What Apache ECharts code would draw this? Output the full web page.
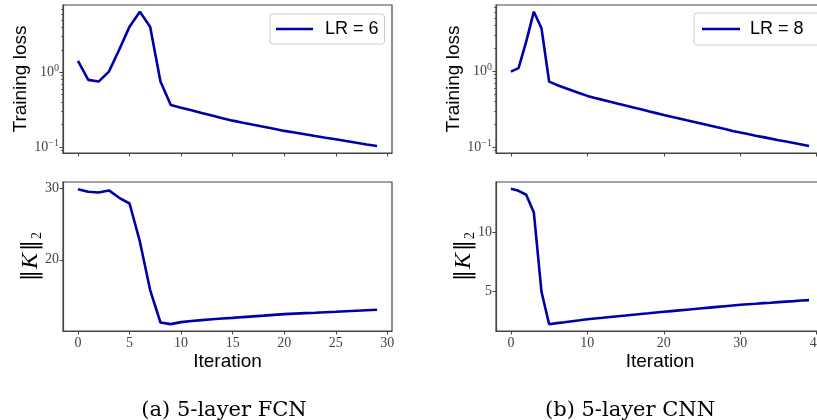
<!DOCTYPE html>
<html>
<head>
<meta charset="utf-8">
<script src="https://cdn.jsdelivr.net/npm/echarts@6/dist/echarts.min.js"></script>
<style>html,body{margin:0;padding:0;background:#fff}#c{width:817px;height:420px}</style>
</head>
<body>
<div id="c"></div>
<script>
// ---- data ----
const fcnLoss = [1.42, 0.79, 0.75, 1.02, 2.0, 4.08, 6.47, 4.08, 0.75, 0.365,
  0.335, 0.309, 0.285, 0.263, 0.243, 0.225, 0.211, 0.198, 0.186, 0.175,
  0.164, 0.156, 0.148, 0.140, 0.133, 0.127, 0.120, 0.114, 0.108, 0.103];
const fcnNorm = [29.9, 29.53, 29.44, 29.72, 28.69, 27.89, 22.58, 15.77, 11.22, 10.99,
  11.27, 11.42, 11.55, 11.67, 11.77, 11.87, 11.98, 12.08, 12.18, 12.29,
  12.39, 12.46, 12.53, 12.59, 12.66, 12.72, 12.79, 12.86, 12.93, 13.0];
const cnnLoss = [0.99, 1.10, 2.46, 6.12, 3.70, 0.73, 0.66, 0.605, 0.556, 0.513,
  0.473, 0.445, 0.419, 0.395, 0.373, 0.352, 0.333, 0.314, 0.296, 0.280,
  0.265, 0.251, 0.238, 0.225, 0.214, 0.203, 0.192, 0.182, 0.173, 0.163,
  0.155, 0.148, 0.141, 0.135, 0.129, 0.123, 0.118, 0.113, 0.108, 0.103];
const cnnNorm = [13.74, 13.57, 13.23, 11.71, 4.94, 2.17, 2.26, 2.34, 2.43, 2.51,
  2.60, 2.66, 2.72, 2.79, 2.85, 2.91, 2.98, 3.04, 3.10, 3.17,
  3.23, 3.29, 3.35, 3.41, 3.47, 3.53, 3.59, 3.65, 3.71, 3.77,
  3.83, 3.88, 3.92, 3.97, 4.01, 4.06, 4.10, 4.14, 4.19, 4.23];
const fcnXTicks = [0, 5, 10, 15, 20, 25, 30];
const cnnXTicks = [0, 10, 20, 30, 40];
const logTicks = [0.1, 1];
const logMinor = [0.09, 0.2, 0.3, 0.4, 0.5, 0.6, 0.7, 0.8, 0.9, 2, 3, 4, 5, 6, 7];
const fcnNormTicks = [20, 30];
const cnnNormTicks = [5, 10];
const labelsLR = ['LR = 6', 'LR = 8'];
const captions = ['(a) 5-layer FCN', '(b) 5-layer CNN'];
const xName = 'Iteration';
const lossName = 'Training loss';

const pairs = a => a.map((v, i) => [i, v]);
const BLUE = '#0000AA';
const SPINE = '#444';
const tickFont = { fontFamily: 'Liberation Serif', fontSize: 14, color: '#444' };
const sansName = { fontFamily: 'Liberation Sans', fontSize: 19, color: '#000' };

const logFmt = v => {
  const e = Math.round(Math.log10(v));
  return '10{sup|' + (e < 0 ? '\u2212' + (-e) : e) + '}';
};
const supRich = { sup: { fontFamily: 'Liberation Serif', fontSize: 10, color: '#444', verticalAlign: 'bottom', padding: [0, 0, 8, 0] } };

function xAxis(gi, min, max, ticks, showLabel) {
  return {
    type: 'value', gridIndex: gi, min: min, max: max,
    axisLine: { show: true, onZero: false, lineStyle: { color: SPINE, width: 1.2 } },
    axisTick: { show: true, customValues: ticks, length: 3.5, lineStyle: { color: SPINE } },
    axisLabel: { show: showLabel, customValues: ticks, margin: 5, ...tickFont },
    splitLine: { show: false },
    name: showLabel ? xName : '', nameLocation: 'middle', nameGap: 21, nameMoveOverlap: false, nameTextStyle: sansName
  };
}
function yLog(gi, min, max, nameGap) {
  return {
    type: 'log', gridIndex: gi, min: min, max: max, logBase: 10, position: 'left',
    axisLine: { show: true, onZero: false, lineStyle: { color: SPINE, width: 1.2 } },
    axisTick: { show: true, customValues: logTicks, length: 3.5, lineStyle: { color: SPINE } },
    axisLabel: { customValues: logTicks, formatter: logFmt, margin: 4, ...tickFont, rich: supRich },
    splitLine: { show: false },
    name: lossName, nameLocation: 'middle', nameRotate: 90, nameGap: nameGap, nameMoveOverlap: false, nameTextStyle: sansName
  };
}
function yMinor(gi, min, max) {
  return {
    type: 'log', gridIndex: gi, min: min, max: max, logBase: 10, position: 'left', offset: 0,
    axisLine: { show: false, onZero: false },
    axisTick: { show: true, inside: false, customValues: logMinor, length: 2, lineStyle: { color: SPINE, width: 0.8 } },
    axisLabel: { show: false }, splitLine: { show: false }
  };
}
function yVal(gi, min, max, ticks, nameGap) {
  return {
    type: 'value', gridIndex: gi, min: min, max: max, position: 'left',
    axisLine: { show: true, onZero: false, lineStyle: { color: SPINE, width: 1.2 } },
    axisTick: { show: true, customValues: ticks, length: 3.5, lineStyle: { color: SPINE } },
    axisLabel: { customValues: ticks, margin: 4, ...tickFont },
    splitLine: { show: false },
    name: '\u2016{k|K}\u2016{sub|2}', nameLocation: 'middle', nameRotate: 90, nameGap: nameGap, nameMoveOverlap: false,
    nameTextStyle: { fontFamily: 'DejaVu Serif', fontSize: 22, color: '#000',
      rich: { k: { fontFamily: 'Liberation Serif', fontStyle: 'italic', fontSize: 24, color: '#000', padding: [0, 2, 0, 1] },
              sub: { fontFamily: 'Liberation Serif', fontSize: 14, color: '#000', verticalAlign: 'top', padding: [12, 0, 0, 1] } } }
  };
}
function line(name, xi, yi, data) {
  return { type: 'line', name: name, xAxisIndex: xi, yAxisIndex: yi, data: pairs(data),
    symbol: 'none', lineStyle: { color: BLUE, width: 2.6 }, itemStyle: { color: BLUE }, z: 5 };
}

const chart = echarts.init(document.getElementById('c'), null, { renderer: 'canvas' });
const frameBox = { show: true, borderColor: SPINE, borderWidth: 1.2, backgroundColor: 'transparent', outerBoundsMode: 'none', containLabel: false };
const legendBase = { itemWidth: 37, itemHeight: 2.6, itemGap: 10, borderColor: '#ccc', borderWidth: 1, borderRadius: 3 };
chart.setOption({
  animation: false,
  backgroundColor: '#fff',
  grid: [
    { left: 63, top: 5, width: 329, height: 148, ...frameBox },
    { left: 63, top: 182, width: 329, height: 149, ...frameBox },
    { left: 496, top: 5, width: 328, height: 148, ...frameBox },
    { left: 496, top: 182, width: 328, height: 149, ...frameBox }
  ],
  xAxis: [
    xAxis(0, -1.45, 30.45, fcnXTicks, false),
    xAxis(1, -1.45, 30.45, fcnXTicks, true),
    xAxis(2, -1.95, 40.95, cnnXTicks, false),
    xAxis(3, -1.95, 40.95, cnnXTicks, true)
  ],
  yAxis: [
    yLog(0, 0.083, 7.95, 33),
    yVal(1, 10.03, 30.9, fcnNormTicks, 19),
    yLog(2, 0.0833, 7.5, 33),
    yVal(3, 1.59, 14.32, cnnNormTicks, 19),
    yMinor(0, 0.083, 7.95),
    yMinor(2, 0.0833, 7.5)
  ],
  legend: [
    { ...legendBase, data: [{ name: labelsLR[0], icon: 'rect' }], left: 270, top: 14, padding: [6, 6, 6, 6],
      textStyle: { fontFamily: 'Liberation Sans', fontSize: 18, color: '#000', padding: [0, 0, 0, 7] } },
    { ...legendBase, itemWidth: 38, data: [{ name: labelsLR[1], icon: 'rect' }], left: 694, top: 13, padding: [7, 17, 7, 8],
      textStyle: { fontFamily: 'Liberation Sans', fontSize: 18, color: '#000', padding: [0, 0, 0, 5] } }
  ],
  title: [
    { text: captions[0], left: 219, top: 395, textAlign: 'center',
      textStyle: { fontFamily: 'DejaVu Serif', fontSize: 21, fontWeight: 'normal', color: '#000' } },
    { text: captions[1], left: 625, top: 395, textAlign: 'center',
      textStyle: { fontFamily: 'DejaVu Serif', fontSize: 21, fontWeight: 'normal', color: '#000' } }
  ],
  series: [
    line(labelsLR[0], 0, 0, fcnLoss),
    line(labelsLR[0], 1, 1, fcnNorm),
    line(labelsLR[1], 2, 2, cnnLoss),
    line(labelsLR[1], 3, 3, cnnNorm)
  ]
});
</script>
</body>
</html>
